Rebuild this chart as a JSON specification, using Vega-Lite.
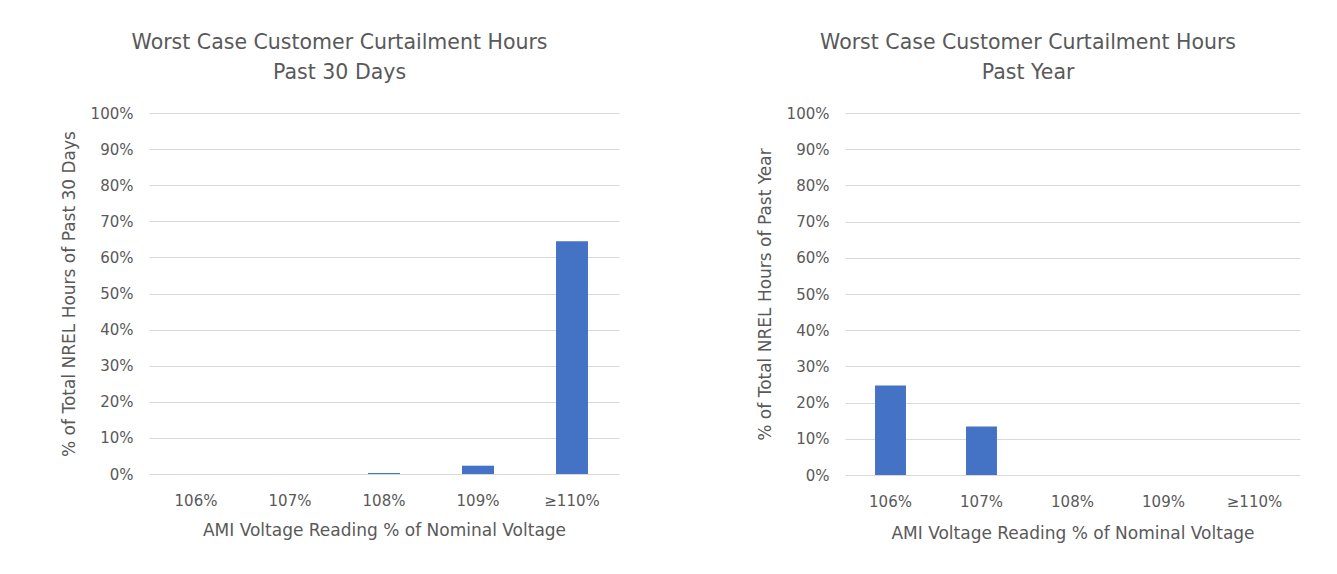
{
  "$schema": "https://vega.github.io/schema/vega-lite/v6.json",
  "background": "white",
  "padding": {"left": 60, "top": 32, "right": 30, "bottom": 10},
  "config": {
    "font": "DejaVu Sans",
    "view": {"stroke": null},
    "axis": {
      "labelColor": "#595959",
      "titleColor": "#595959",
      "labelFontSize": 15,
      "titleFontSize": 17,
      "titleFontWeight": "normal",
      "gridColor": "#d9d9d9",
      "domain": false,
      "ticks": false
    },
    "title": {
      "fontSize": 20.5,
      "fontWeight": "normal",
      "color": "#595959",
      "lineHeight": 30,
      "frame": "bounds",
      "anchor": "middle",
      "offset": 23
    },
    "concat": {"spacing": 137}
  },
  "data": {
    "values": [
      {"panel": "days", "reading": "106%", "pct": 0},
      {"panel": "days", "reading": "107%", "pct": 0},
      {"panel": "days", "reading": "108%", "pct": 0.3},
      {"panel": "days", "reading": "109%", "pct": 2.3},
      {"panel": "days", "reading": "≥110%", "pct": 64.5},
      {"panel": "year", "reading": "106%", "pct": 24.7},
      {"panel": "year", "reading": "107%", "pct": 13.4},
      {"panel": "year", "reading": "108%", "pct": 0},
      {"panel": "year", "reading": "109%", "pct": 0},
      {"panel": "year", "reading": "≥110%", "pct": 0}
    ]
  },
  "hconcat": [
    {
      "title": {"text": ["Worst Case Customer Curtailment Hours", "Past 30 Days"]},
      "width": 470,
      "height": 361,
      "transform": [{"filter": "datum.panel === 'days'"}],
      "mark": {"type": "bar", "color": "#4472C4"},
      "encoding": {
        "x": {
          "field": "reading",
          "type": "nominal",
          "sort": ["106%", "107%", "108%", "109%", "≥110%"],
          "scale": {"paddingInner": 0.66, "paddingOuter": 0.33},
          "axis": {"labelAngle": 0, "title": "AMI Voltage Reading % of Nominal Voltage", "labelPadding": 19, "titlePadding": 14, "grid": false}
        },
        "y": {
          "field": "pct",
          "type": "quantitative",
          "scale": {"domain": [0, 100]},
          "axis": {
            "values": [0, 10, 20, 30, 40, 50, 60, 70, 80, 90, 100],
            "labelExpr": "datum.value + '%'",
            "title": "% of Total NREL Hours of Past 30 Days",
            "labelPadding": 16,
            "titlePadding": 12
          }
        }
      }
    },
    {
      "title": {"text": ["Worst Case Customer Curtailment Hours", "Past Year"]},
      "width": 455,
      "height": 362,
      "transform": [{"filter": "datum.panel === 'year'"}],
      "mark": {"type": "bar", "color": "#4472C4"},
      "encoding": {
        "x": {
          "field": "reading",
          "type": "nominal",
          "sort": ["106%", "107%", "108%", "109%", "≥110%"],
          "scale": {"paddingInner": 0.66, "paddingOuter": 0.33},
          "axis": {"labelAngle": 0, "title": "AMI Voltage Reading % of Nominal Voltage", "labelPadding": 19, "titlePadding": 16, "grid": false}
        },
        "y": {
          "field": "pct",
          "type": "quantitative",
          "scale": {"domain": [0, 100]},
          "axis": {
            "values": [0, 10, 20, 30, 40, 50, 60, 70, 80, 90, 100],
            "labelExpr": "datum.value + '%'",
            "title": "% of Total NREL Hours of Past Year",
            "labelPadding": 16,
            "titlePadding": 12
          }
        }
      }
    }
  ]
}
